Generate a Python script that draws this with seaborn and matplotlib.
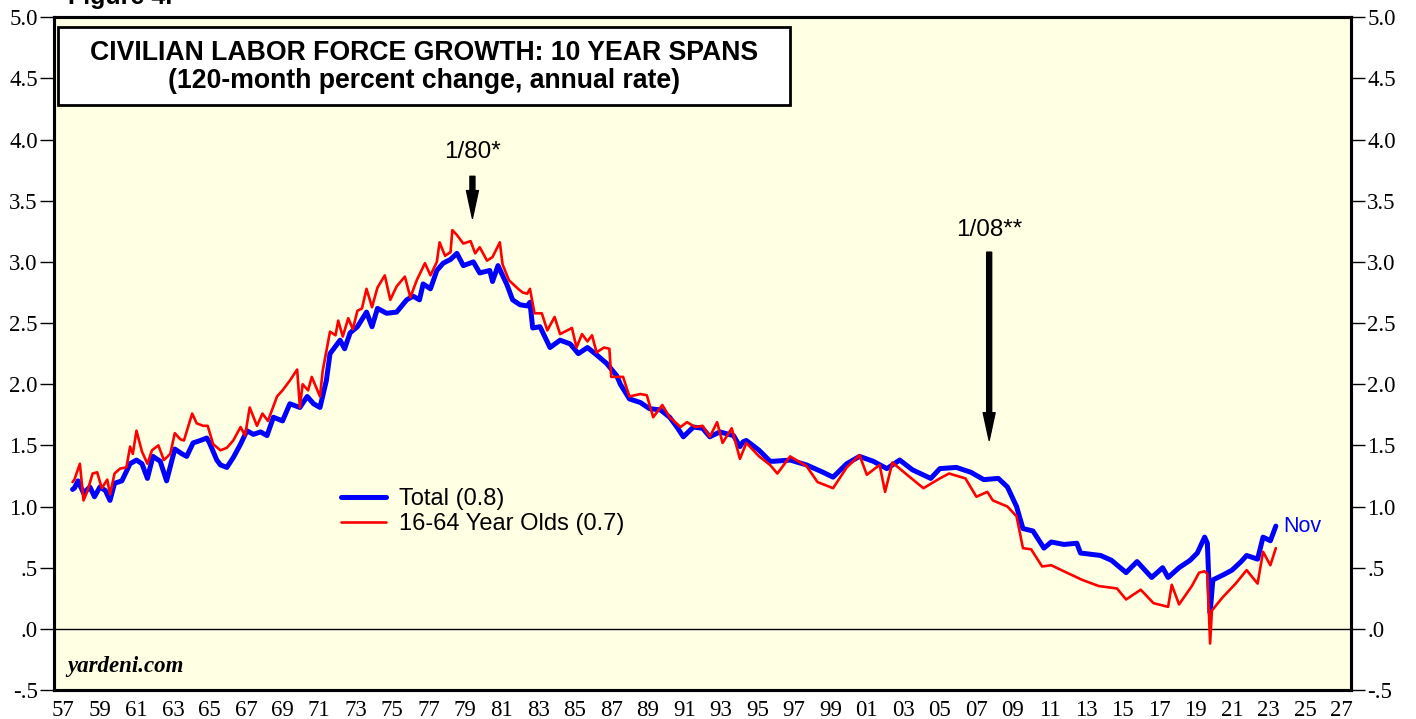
import matplotlib
matplotlib.use("Agg")
import matplotlib.pyplot as plt
import seaborn as sns
import pandas as pd
from matplotlib.patches import Rectangle

# ---------------- data ----------------
total_years = [1958.0, 1958.1, 1958.3, 1958.6, 1958.95, 1959.2, 1959.5, 1959.8, 1960.05, 1960.3,
               1960.7, 1961.15, 1961.5, 1961.8, 1962.1, 1962.4, 1962.8, 1963.15, 1963.6, 1964.0,
               1964.25, 1964.6, 1965.0, 1965.35, 1965.5, 1965.9, 1966.1, 1966.45, 1966.8, 1967.2,
               1967.55, 1967.9, 1968.3, 1968.65, 1969.0, 1969.5, 1969.9, 1970.45, 1970.85, 1971.2,
               1971.55, 1971.9, 1972.1, 1972.65, 1972.9, 1973.2, 1973.6, 1974.1, 1974.4, 1974.7,
               1975.2, 1975.75, 1976.3, 1976.65, 1977.0, 1977.2, 1977.6, 1977.95, 1978.3, 1978.7,
               1979.05, 1979.4, 1979.95, 1980.3, 1980.85, 1981.0, 1981.3, 1981.8, 1982.1, 1982.5,
               1982.9, 1983.05, 1983.2, 1983.6, 1984.15, 1984.7, 1985.25, 1985.7, 1986.2, 1986.7,
               1987.25, 1987.8, 1988.0, 1988.5, 1989.1, 1989.6, 1990.2, 1990.7, 1991.1, 1991.45,
               1992.0, 1992.5, 1992.9, 1993.45, 1994.2, 1994.55, 1994.73, 1994.9, 1995.6, 1996.2,
               1996.4, 1997.3, 1998.2, 1999.1, 1999.65, 2000.4, 2001.1, 2001.85, 2002.6, 2003.3,
               2004.0, 2005.0, 2005.5, 2006.4, 2007.2, 2007.9, 2008.7, 2009.2, 2009.7, 2010.05,
               2010.6, 2011.2, 2011.6, 2012.3, 2013.0, 2013.2, 2014.3, 2014.9, 2015.7, 2016.3,
               2017.1, 2017.7, 2018.0, 2018.6, 2019.2, 2019.6, 2020.0, 2020.15, 2020.3, 2020.45,
               2021.0, 2021.5, 2022.0, 2022.3, 2022.9, 2023.2, 2023.6, 2023.9]
total_vals = [1.14, 1.15, 1.21, 1.11, 1.16, 1.08, 1.16, 1.13, 1.05, 1.19,
              1.21, 1.35, 1.38, 1.35, 1.23, 1.41, 1.37, 1.21, 1.47, 1.43,
              1.41, 1.52, 1.54, 1.56, 1.52, 1.38, 1.34, 1.32, 1.40, 1.51,
              1.62, 1.59, 1.61, 1.58, 1.73, 1.70, 1.84, 1.81, 1.90, 1.84,
              1.81, 2.03, 2.25, 2.36, 2.29, 2.42, 2.47, 2.59, 2.47, 2.62,
              2.58, 2.59, 2.69, 2.72, 2.69, 2.82, 2.78, 2.93, 2.99, 3.02,
              3.07, 2.97, 3.00, 2.91, 2.93, 2.84, 2.97, 2.81, 2.69, 2.65,
              2.64, 2.67, 2.46, 2.47, 2.30, 2.36, 2.33, 2.25, 2.30, 2.24,
              2.17, 2.07, 2.00, 1.88, 1.85, 1.80, 1.79, 1.73, 1.65, 1.57,
              1.65, 1.64, 1.57, 1.61, 1.58, 1.49, 1.53, 1.54, 1.46, 1.37,
              1.37, 1.38, 1.34, 1.28, 1.24, 1.35, 1.41, 1.37, 1.31, 1.38,
              1.30, 1.23, 1.31, 1.32, 1.28, 1.22, 1.23, 1.16, 1.00, 0.82,
              0.80, 0.66, 0.71, 0.69, 0.70, 0.62, 0.60, 0.56, 0.46, 0.55,
              0.42, 0.50, 0.42, 0.50, 0.56, 0.62, 0.75, 0.70, 0.13, 0.40,
              0.44, 0.48, 0.55, 0.60, 0.57, 0.75, 0.72, 0.84]

young_years = [1958.0, 1958.1, 1958.4, 1958.6, 1958.8, 1959.1, 1959.35, 1959.6, 1959.9, 1960.05,
               1960.3, 1960.6, 1960.95, 1961.15, 1961.3, 1961.5, 1961.8, 1962.1, 1962.35, 1962.7,
               1963.0, 1963.35, 1963.6, 1963.9, 1964.1, 1964.55, 1964.8, 1965.15, 1965.4, 1965.7,
               1966.1, 1966.45, 1966.8, 1967.2, 1967.45, 1967.7, 1968.1, 1968.4, 1968.7, 1969.2,
               1969.5, 1969.9, 1970.3, 1970.45, 1970.6, 1970.9, 1971.1, 1971.55, 1971.7, 1972.1,
               1972.4, 1972.55, 1972.8, 1973.1, 1973.35, 1973.6, 1973.85, 1974.1, 1974.4, 1974.7,
               1975.1, 1975.4, 1975.75, 1976.2, 1976.5, 1976.85, 1977.3, 1977.6, 1977.95, 1978.1,
               1978.4, 1978.7, 1978.8, 1979.05, 1979.4, 1979.8, 1980.05, 1980.3, 1980.7, 1981.0,
               1981.4, 1981.55, 1981.9, 1982.4, 1982.65, 1982.9, 1983.05, 1983.3, 1983.7, 1984.0,
               1984.4, 1984.7, 1985.35, 1985.6, 1985.9, 1986.2, 1986.45, 1986.7, 1987.1, 1987.4,
               1987.5, 1988.15, 1988.5, 1989.1, 1989.45, 1989.8, 1990.3, 1990.7, 1991.3, 1991.65,
               1992.1, 1992.5, 1992.9, 1993.3, 1993.6, 1994.1, 1994.55, 1994.9, 1995.6, 1996.2,
               1996.6, 1997.3, 1998.2, 1998.8, 1999.65, 2000.4, 2001.1, 2001.5, 2002.2, 2002.5,
               2002.9, 2003.7, 2004.6, 2005.5, 2006.0, 2006.9, 2007.5, 2008.1, 2008.4, 2009.2,
               2009.7, 2010.05, 2010.5, 2011.1, 2011.6, 2012.3, 2013.3, 2014.2, 2015.2, 2015.7,
               2016.5, 2017.2, 2018.0, 2018.2, 2018.6, 2019.3, 2019.7, 2020.0, 2020.15, 2020.3,
               2020.4, 2021.0, 2021.7, 2022.3, 2022.9, 2023.2, 2023.6, 2023.9]
young_vals = [1.20, 1.22, 1.35, 1.05, 1.12, 1.27, 1.28, 1.15, 1.22, 1.10,
              1.27, 1.31, 1.32, 1.49, 1.43, 1.62, 1.45, 1.35, 1.46, 1.50,
              1.38, 1.43, 1.60, 1.55, 1.54, 1.76, 1.68, 1.66, 1.66, 1.51,
              1.46, 1.48, 1.54, 1.65, 1.58, 1.81, 1.66, 1.76, 1.70, 1.90,
              1.95, 2.03, 2.12, 1.81, 2.00, 1.95, 2.06, 1.90, 2.11, 2.43,
              2.40, 2.52, 2.39, 2.54, 2.45, 2.60, 2.62, 2.78, 2.63, 2.79,
              2.89, 2.69, 2.80, 2.88, 2.71, 2.85, 2.99, 2.89, 3.00, 3.16,
              3.05, 3.08, 3.26, 3.22, 3.15, 3.17, 3.07, 3.12, 3.01, 3.04,
              3.16, 2.98, 2.85, 2.78, 2.75, 2.74, 2.78, 2.58, 2.58, 2.44,
              2.55, 2.41, 2.46, 2.30, 2.41, 2.35, 2.40, 2.26, 2.30, 2.29,
              2.06, 2.06, 1.90, 1.92, 1.91, 1.73, 1.83, 1.73, 1.65, 1.69,
              1.65, 1.66, 1.57, 1.69, 1.52, 1.64, 1.39, 1.52, 1.41, 1.34,
              1.27, 1.41, 1.33, 1.20, 1.15, 1.32, 1.42, 1.26, 1.34, 1.12,
              1.36, 1.26, 1.15, 1.23, 1.27, 1.23, 1.08, 1.12, 1.05, 1.00,
              0.92, 0.66, 0.65, 0.51, 0.52, 0.47, 0.40, 0.35, 0.33, 0.24,
              0.32, 0.21, 0.18, 0.36, 0.20, 0.35, 0.46, 0.47, 0.45, -0.12,
              0.15, 0.26, 0.37, 0.48, 0.37, 0.63, 0.52, 0.66]

series_labels = ["Total (0.8)", "16-64 Year Olds (0.7)"]
y_ticks = [-0.5, 0.0, 0.5, 1.0, 1.5, 2.0, 2.5, 3.0, 3.5, 4.0, 4.5, 5.0]
y_ticklabels = ["-.5", ".0", ".5", "1.0", "1.5", "2.0", "2.5", "3.0", "3.5", "4.0", "4.5", "5.0"]
x_label_years = list(range(1957, 2028, 2))

# ---------------- figure ----------------
sns.set_style("white")
plt.rcParams["font.family"] = ["Liberation Sans", "DejaVu Sans"]
plt.rcParams["text.color"] = "black"
plt.rcParams["axes.labelcolor"] = "black"
plt.rcParams["xtick.color"] = "black"
plt.rcParams["ytick.color"] = "black"

W, H = 1416, 719
fig = plt.figure(figsize=(W / 100, H / 100), dpi=100)
fig.patch.set_facecolor("white")
L, R, T, B = 54.3, 1350.7, 17.3, 690.0
ax = fig.add_axes([L / W, 1 - B / H, (R - L) / W, (B - T) / H])
ax.set_facecolor("#FFFFE3")

df_total = pd.DataFrame({"year": total_years, "value": total_vals})
df_young = pd.DataFrame({"year": young_years, "value": young_vals})

sns.lineplot(data=df_total, x="year", y="value", ax=ax, color="#0000FF", lw=3.6,
             label=series_labels[0], zorder=3)
sns.lineplot(data=df_young, x="year", y="value", ax=ax, color="#FF0000", lw=1.9,
             label=series_labels[1], zorder=4)

ax.axhline(0, color="black", lw=1.0, zorder=2)

ax.set_xlim(1957, 2028)
ax.set_ylim(-0.5, 5.0)
ax.set_xlabel("")
ax.set_ylabel("")

serif = ["Liberation Serif", "DejaVu Serif"]
TICK_FS = 16.5

# x axis: year ticks, labels centred in each labelled year
ax.set_xticks(list(range(1957, 2029)))
ax.set_xticklabels([])
ax.set_xticks([y + 0.5 for y in x_label_years], minor=True)
ax.set_xticklabels([f"{y % 100:02d}" for y in x_label_years], minor=True,
                   fontfamily=serif, fontsize=TICK_FS)
ax.tick_params(axis="x", which="major", direction="out", length=4, width=1.6, color="black")
ax.tick_params(axis="x", which="minor", length=0, pad=7, labelcolor="black")

ax.set_yticks(y_ticks)
ax.set_yticklabels(y_ticklabels, fontfamily=serif, fontsize=TICK_FS)
ax.tick_params(axis="y", which="major", direction="out", length=10, width=1.0, pad=2,
               color="black", left=True, labelcolor="black")

ax2 = ax.twinx()
ax2.set_ylim(-0.5, 5.0)
ax2.set_yticks(y_ticks)
ax2.set_yticklabels(y_ticklabels, fontfamily=serif, fontsize=TICK_FS)
ax2.tick_params(axis="y", direction="out", length=10, width=1.0, pad=2, color="black",
                right=True, labelcolor="black")

for a in (ax, ax2):
    for s in a.spines.values():
        s.set_visible(True)
        s.set_color("black")
        s.set_linewidth(2.2)

# legend
leg = ax.legend(loc="upper left", bbox_to_anchor=(341 / W, 1 - 488 / H),
                bbox_transform=fig.transFigure, frameon=False, fontsize=17,
                handlelength=1.9, handletextpad=0.55, labelspacing=0.12,
                borderpad=0, borderaxespad=0)
for t in leg.get_texts():
    t.set_color("black")

# title box
box = Rectangle((58 / W, 1 - 105 / H), (790 - 58) / W, (105 - 27) / H,
                transform=fig.transFigure, facecolor="white", edgecolor="black",
                lw=2.0, zorder=10)
fig.add_artist(box)
fig.text(424 / W, 1 - 53 / H, "CIVILIAN LABOR FORCE GROWTH: 10 YEAR SPANS",
         ha="center", va="center", fontsize=19.2, fontweight="bold", zorder=11)
fig.text(424 / W, 1 - 81 / H, "(120-month percent change, annual rate)",
         ha="center", va="center", fontsize=19.2, fontweight="bold", zorder=11)

fig.text(68 / W, 1 - 4 / H, "Figure 4.", ha="left", va="baseline",
         fontsize=18, fontweight="bold")

# annotations
ax.text(1979.9, 3.895, "1/80*", ha="center", va="center", fontsize=17.5)
ax.annotate("", xy=(1979.9, 3.356), xytext=(1979.9, 3.70),
            arrowprops=dict(facecolor="black", edgecolor="black", width=3.6,
                            headwidth=8.6, headlength=20, shrink=0))
ax.text(2008.2, 3.26, "1/08**", ha="center", va="center", fontsize=17.5)
ax.annotate("", xy=(2008.2, 1.54), xytext=(2008.2, 3.08),
            arrowprops=dict(facecolor="black", edgecolor="black", width=3.6,
                            headwidth=8.6, headlength=20, shrink=0))

ax.text(2024.3, 0.84, "Nov", color="#0000FF", fontsize=15.5, ha="left", va="center")

ax.text(0.01, 0.02, "yardeni.com", transform=ax.transAxes, fontfamily=serif,
        fontsize=16.5, fontweight="bold", fontstyle="italic", ha="left", va="bottom")

fig.savefig("out.png", dpi=100, facecolor="white")
